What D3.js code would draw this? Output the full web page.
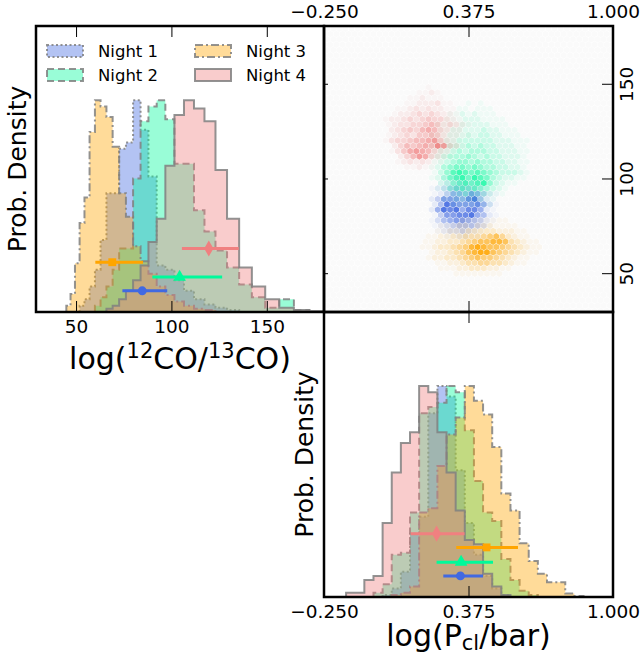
<!DOCTYPE html>
<meta charset="utf-8">
<style>
body { margin: 0; background: #fff; }
text { font-family: "DejaVu Sans", sans-serif; }
</style>
<body>
<div id="graph"></div>
<script src="https://cdnjs.cloudflare.com/ajax/libs/d3/7.8.5/d3.min.js"></script>
<script>
var nights = ["Night 1", "Night 2", "Night 3", "Night 4"];
var nightColors = ["royalblue", "mediumspringgreen", "orange", "lightcoral"];
var nightDash = ["2,2.5", "7,4", "8,3,2,3", null];
var nightSymbols = [d3.symbolCircle, d3.symbolTriangle, d3.symbolSquare, d3.symbolDiamond];

var coTicks = [50, 100, 150];
var pclTicks = [-0.25, 0.375, 1.0];
var pclTickLabels = ["\u22120.250", "0.375", "1.000"];

// 12CO/13CO histograms: log-spaced bins shared by all nights, peak normalised to 1
var coBinStart = 44.9, coBinRatio = 1.0492;
var coHistN1 = [0, 0, 0, 0.03, 0.06, 0.12, 0.2, 0.34, 0.56, 0.56, 0.77, 0.8, 1.0, 0.86, 0.64, 0.22, 0.2, 0.15, 0.1, 0.06, 0.035, 0.02, 0.01];
var coHistN2 = [0, 0, 0, 0, 0, 0, 0.03, 0.07, 0.12, 0.2, 0.3, 0.3, 0.63, 0.9, 0.97, 1.0, 0.91, 0.7, 0.7, 0.48, 0.38, 0.29, 0.21, 0.13, 0.07, 0.02, 0.06, 0.01];
var coHistN3 = [0.03, 0.085, 0.23, 0.42, 0.54, 0.85, 1.0, 0.97, 0.92, 0.78, 0.56, 0.45, 0.31, 0.24, 0.18, 0.12, 0.08, 0.05, 0.03, 0.015, 0.01];
var coHistN4 = [0, 0, 0, 0, 0, 0, 0, 0, 0.015, 0.03, 0.06, 0.1, 0.15, 0.22, 0.33, 0.44, 0.69, 0.93, 1.0, 0.96, 0.9, 0.67, 0.44, 0.21, 0.12, 0.06, 0.02, 0.01, 0.005];

// log(Pcl/bar) histograms: linear bins
var pclBinStart = -0.194, pclBinWidth = 0.0395;
var pclHistN1 = [0, 0, 0, 0, 0, 0.01, 0.04, 0.12, 0.3, 0.38, 0.87, 1.0, 0.95, 0.6, 0.35, 0.2, 0.1, 0.04, 0.01];
var pclHistN2 = [0, 0, 0, 0, 0.02, 0.06, 0.2, 0.21, 0.4, 0.87, 0.9, 0.92, 1.0, 0.97, 0.79, 0.55, 0.4, 0.36, 0.18, 0.08, 0.03, 0.01];
var pclHistN3 = [0, 0, 0, 0, 0, 0, 0.01, 0.02, 0.05, 0.4, 0.42, 0.62, 0.77, 0.85, 1.0, 0.93, 0.865, 0.71, 0.49, 0.41, 0.255, 0.17, 0.11, 0.07, 0.07, 0.017, 0.005];
var pclHistN4 = [0, 0.02, 0.02, 0.08, 0.1, 0.35, 0.59, 0.73, 0.78, 1.0, 0.97, 0.78, 0.59, 0.41, 0.27, 0.25, 0.11, 0.05, 0.01];

// medians and 68% intervals, drawn as error bars
var coMed = [84.7, 104.3, 69.0, 119.6];
var coLo = [74.3, 90.0, 60.1, 105.5];
var coHi = [97.8, 126.6, 85.1, 135.3];
var pclMed = [0.340, 0.343, 0.453, 0.237];
var pclLo = [0.266, 0.237, 0.322, 0.125];
var pclHi = [0.438, 0.481, 0.589, 0.358];
var markerHeight = [0.10, 0.165, 0.235, 0.30];

// joint hexbin density levels (0-9) per night: top row CO, left column Pcl, rows top -> bottom
var hexN1Top = 100, hexN1Left = 0.19;
var hexN1 = [
  "000112111000",
  "001223322100",
  "012345443210",
  "012466576421",
  "024777689521",
  "025987778631",
  "026989688621",
  "014778896521",
  "013567765421",
  "012345554310",
  "001233432100",
  "000112211000"
];
var hexN2Top = 140, hexN2Left = 0.2;
var hexN2 = [
  "00000001010000000",
  "00000110111000000",
  "00001121211100000",
  "00011122211110000",
  "00111122222111000",
  "00112222232211100",
  "01112223233221110",
  "01122333333222111",
  "01223334343322211",
  "01223434443322211",
  "01234445434332221",
  "01234554544332211",
  "01245665654433221",
  "01357876765433321",
  "01246786876432211",
  "00235676785321100",
  "00124565654321000",
  "00012343332110000",
  "00011222221100000",
  "00001111111000000"
];
var hexN3Top = 79, hexN3Left = 0.16;
var hexN3 = [
  "000000011111111000000",
  "000011122122211110000",
  "000112223333322211000",
  "001122334445675321100",
  "011223345677887432110",
  "011233456898776543211",
  "001223457899765432110",
  "001223345676654321100",
  "000112234455443211000",
  "000011122333221100000",
  "000000111111110000000"
];
var hexN4Top = 149, hexN4Left = -0.01;
var hexN4 = [
  "000000001000000",
  "000000112100000",
  "000001121110000",
  "000011222311000",
  "000112323221100",
  "001223434322100",
  "012234345443210",
  "012334456534321",
  "002345467643220",
  "012343556532211",
  "013445667853210",
  "002465676984310",
  "001357876432100",
  "000246874321000",
  "000123232110000",
  "000011211000000"
];

var coHists = [coHistN1, coHistN2, coHistN3, coHistN4];
var pclHists = [pclHistN1, pclHistN2, pclHistN3, pclHistN4];
var hexGrids = [[hexN1Top, hexN1Left, hexN1], [hexN2Top, hexN2Left, hexN2], [hexN3Top, hexN3Left, hexN3], [hexN4Top, hexN4Left, hexN4]];

var W = 643, H = 660;
var pTL = {x0: 36, x1: 324, y0: 26, y1: 312};
var pTR = {x0: 324, x1: 613, y0: 26, y1: 312};
var pBR = {x0: 324, x1: 613, y0: 312, y1: 597};

var svg = d3.select("#graph").append("svg")
    .attr("width", W)
    .attr("height", H);
var defs = svg.append("defs");
function addClip(id, b) {
    defs.append("clipPath").attr("id", id)
        .append("rect")
        .attr("x", b.x0).attr("y", b.y0)
        .attr("width", b.x1 - b.x0).attr("height", b.y1 - b.y0);
}
addClip("clipTL", pTL);
addClip("clipTR", pTR);
addClip("clipBR", pBR);

var xCo = d3.scaleLinear().domain([29, 180]).range([pTL.x0, pTL.x1]);
var yCoDens = d3.scaleLinear().domain([0, 1.35]).range([pTL.y1, pTL.y0]);
var xPclHex = d3.scaleLinear().domain([-0.25, 1]).range([pTR.x0, pTR.x1]);
var yCoHex = d3.scaleLinear().domain([29.5, 180.5]).range([pTR.y1, pTR.y0]);
var xPcl = d3.scaleLinear().domain([-0.25, 1]).range([pBR.x0, pBR.x1]);
var yPclDens = d3.scaleLinear().domain([0, 1.35]).range([pBR.y1, pBR.y0]);
// hex density level -> opacity
var hexAlpha = d3.scalePow().exponent(1.4).domain([0, 9]).range([0, 0.9]);

// ---------- hexbin panel ----------
var hexCols = 47;
var pclLeft = xPclHex.domain()[0], coTop = yCoHex.domain()[1];
var hexDx = (xPclHex.domain()[1] - pclLeft) / hexCols;
var hxPx = xPclHex(pclLeft + hexDx) - xPclHex(pclLeft);
var hexR = hxPx / Math.sqrt(3);
var hexDy = 1.5 * hexR / (yCoHex(0) - yCoHex(1));
var hexRows = Math.ceil((coTop - yCoHex.domain()[0]) / hexDy) + 1;

function latticeCenter(i, j) {
    return [pclLeft + (i + 0.5 + (j % 2) * 0.5) * hexDx, coTop - (j + 0.5) * hexDy];
}
var hexShape = (function() {
    var r = hexR * 0.93, w = hxPx / 2 * 0.93;
    return "M0," + (-r) + "L" + w + "," + (-r / 2) + "L" + w + "," + (r / 2) +
        "L0," + r + "L" + (-w) + "," + (r / 2) + "L" + (-w) + "," + (-r / 2) + "Z";
})();

function hexCells(top, left, rows) {
    var j0 = Math.round((coTop - top) / hexDy - 0.5);
    var cells = [];
    rows.forEach(function(row, r) {
        var j = j0 + r;
        var i0 = Math.round((left - pclLeft) / hexDx - 0.5 - (j % 2) * 0.5);
        row.split("").forEach(function(ch, c) {
            var level = +ch;
            if (level > 0) {
                var p = latticeCenter(i0 + c, j);
                cells.push({pcl: p[0], co: p[1], level: level});
            }
        });
    });
    return cells;
}

var hexLayer = svg.append("g").attr("clip-path", "url(#clipTR)");
var bgCells = [];
for (var j = 0; j < hexRows; j++) {
    for (var i = -1; i <= hexCols; i++) {
        var p = latticeCenter(i, j);
        bgCells.push({pcl: p[0], co: p[1]});
    }
}
hexLayer.selectAll("path.bg")
    .data(bgCells)
    .enter()
    .append("path")
    .attr("class", "bg")
    .attr("d", hexShape)
    .attr("transform", function(d) { return "translate(" + xPclHex(d.pcl) + "," + yCoHex(d.co) + ")"; })
    .attr("fill", "#999")
    .attr("fill-opacity", 0.05);

hexGrids.forEach(function(g, n) {
    hexLayer.append("g")
        .selectAll("path")
        .data(hexCells(g[0], g[1], g[2]))
        .enter()
        .append("path")
        .attr("d", hexShape)
        .attr("transform", function(d) { return "translate(" + xPclHex(d.pcl) + "," + yCoHex(d.co) + ")"; })
        .attr("fill", nightColors[n])
        .attr("fill-opacity", function(d) { return hexAlpha(d.level); });
});

// ---------- histograms ----------
function stepPoints(heights, edge) {
    var first = heights.findIndex(function(h) { return h > 0; });
    var last = heights.length - 1;
    while (heights[last] <= 0) last--;
    var pts = [[edge(first), 0]];
    for (var k = first; k <= last; k++) {
        pts.push([edge(k), heights[k]]);
        pts.push([edge(k + 1), heights[k]]);
    }
    pts.push([edge(last + 1), 0]);
    return pts;
}
function coEdge(k) { return coBinStart * Math.pow(coBinRatio, k); }
function pclEdge(k) { return pclBinStart + k * pclBinWidth; }

function drawHists(clipId, hists, edge, x, y) {
    var g = svg.append("g").attr("clip-path", "url(#" + clipId + ")");
    var line = d3.line()
        .x(function(d) { return x(d[0]); })
        .y(function(d) { return y(d[1]); });
    hists.forEach(function(h, n) {
        g.append("path")
            .datum(stepPoints(h, edge))
            .attr("d", function(d) { return line(d) + "Z"; })
            .attr("fill", nightColors[n])
            .attr("fill-opacity", 0.4)
            .attr("stroke", "gray")
            .attr("stroke-opacity", 0.85)
            .attr("stroke-width", 2)
            .attr("stroke-dasharray", nightDash[n]);
    });
    return g;
}
var gTL = drawHists("clipTL", coHists, coEdge, xCo, yCoDens);
var gBR = drawHists("clipBR", pclHists, pclEdge, xPcl, yPclDens);

function drawErrorBars(g, med, lo, hi, x, y) {
    nights.forEach(function(name, n) {
        g.append("line")
            .attr("x1", x(lo[n])).attr("x2", x(hi[n]))
            .attr("y1", y(markerHeight[n])).attr("y2", y(markerHeight[n]))
            .attr("stroke", nightColors[n])
            .attr("stroke-width", 3);
        g.append("path")
            .attr("d", d3.symbol().type(nightSymbols[n]).size(n == 3 ? 75 : (n == 1 ? 70 : 62))())
            .attr("transform", "translate(" + x(med[n]) + "," + y(markerHeight[n]) + ")")
            .attr("fill", nightColors[n]);
    });
}
drawErrorBars(gTL, coMed, coLo, coHi, xCo, yCoDens);
drawErrorBars(gBR, pclMed, pclLo, pclHi, xPcl, yPclDens);

// ---------- legend ----------
var legend = svg.append("g");
nights.forEach(function(name, n) {
    var lx = pTL.x0 + 11 + Math.floor(n / 2) * 148;
    var ly = pTL.y0 + 19 + (n % 2) * 24;
    legend.append("rect")
        .attr("x", lx).attr("y", ly)
        .attr("width", 36).attr("height", 12)
        .attr("fill", nightColors[n])
        .attr("fill-opacity", 0.4)
        .attr("stroke", "gray")
        .attr("stroke-opacity", 0.85)
        .attr("stroke-width", 2)
        .attr("stroke-dasharray", nightDash[n]);
    legend.append("text")
        .attr("x", lx + 51).attr("y", ly + 6)
        .attr("dy", "0.35em")
        .attr("font-size", 16.5)
        .text(name);
});

// ---------- axes ----------
function styleAxis(g) {
    g.select(".domain").remove();
    g.attr("font-size", 18.5).attr("font-family", "DejaVu Sans, sans-serif");
    g.selectAll(".tick line").attr("stroke", "#000").attr("stroke-width", 1);
}
svg.append("g").attr("transform", "translate(0," + pTL.y1 + ")")
    .call(d3.axisBottom(xCo).tickValues(coTicks).tickSize(-11).tickPadding(8))
    .call(styleAxis);
svg.append("g").attr("transform", "translate(0," + pTL.y0 + ")")
    .call(d3.axisTop(xCo).tickValues(coTicks).tickSize(-11).tickFormat(""))
    .call(styleAxis);

var pclFormat = function(d, i) { return pclTickLabels[i]; };
svg.append("g").attr("transform", "translate(0," + pTR.y0 + ")")
    .call(d3.axisTop(xPclHex).tickValues(pclTicks).tickSize(-11).tickPadding(8).tickFormat(pclFormat))
    .call(styleAxis);
svg.append("g").attr("transform", "translate(0," + pTR.y1 + ")")
    .call(d3.axisBottom(xPclHex).tickValues(pclTicks).tickSize(-11).tickFormat(""))
    .call(styleAxis);
svg.append("g").attr("transform", "translate(" + pTR.x1 + ",0)")
    .call(d3.axisRight(yCoHex).tickValues(coTicks).tickSize(-11))
    .call(styleAxis)
    .call(function(g) {
        g.selectAll(".tick text")
            .attr("x", null).attr("dy", null)
            .attr("text-anchor", "middle")
            .attr("transform", "translate(20,0) rotate(-90)");
    });
svg.append("g").attr("transform", "translate(" + pTR.x0 + ",0)")
    .call(d3.axisLeft(yCoHex).tickValues(coTicks).tickSize(-4).tickFormat(""))
    .call(styleAxis);

svg.append("g").attr("transform", "translate(0," + pBR.y1 + ")")
    .call(d3.axisBottom(xPcl).tickValues(pclTicks).tickSize(-11).tickPadding(8).tickFormat(pclFormat))
    .call(styleAxis);
svg.append("g").attr("transform", "translate(0," + pBR.y0 + ")")
    .call(d3.axisTop(xPcl).tickValues(pclTicks).tickSize(-11).tickFormat(""))
    .call(styleAxis);

// spines
[pTL, pTR, pBR].forEach(function(b) {
    svg.append("rect")
        .attr("x", b.x0).attr("y", b.y0)
        .attr("width", b.x1 - b.x0).attr("height", b.y1 - b.y0)
        .attr("fill", "none")
        .attr("stroke", "#000")
        .attr("stroke-width", 2.5);
});

// ---------- axis labels ----------
svg.append("text")
    .attr("transform", "translate(26," + ((pTL.y0 + pTL.y1) / 2) + ") rotate(-90)")
    .attr("text-anchor", "middle")
    .attr("font-size", 25)
    .text("Prob. Density");
svg.append("text")
    .attr("transform", "translate(313," + ((pBR.y0 + pBR.y1) / 2) + ") rotate(-90)")
    .attr("text-anchor", "middle")
    .attr("font-size", 25)
    .text("Prob. Density");

var xl1 = svg.append("text")
    .attr("x", (pTL.x0 + pTL.x1) / 2)
    .attr("y", 369)
    .attr("text-anchor", "middle")
    .attr("font-size", 30);
xl1.append("tspan").text("log(");
xl1.append("tspan").attr("font-size", 21).attr("dy", -11).text("12");
xl1.append("tspan").attr("dy", 11).text("CO/");
xl1.append("tspan").attr("font-size", 21).attr("dy", -11).text("13");
xl1.append("tspan").attr("dy", 11).text("CO)");

var xl2 = svg.append("text")
    .attr("x", (pBR.x0 + pBR.x1) / 2)
    .attr("y", 646)
    .attr("text-anchor", "middle")
    .attr("font-size", 30);
xl2.append("tspan").text("log(P");
xl2.append("tspan").attr("font-size", 21).attr("dy", 4).text("cl");
xl2.append("tspan").attr("dy", -4).text("/bar)");
</script>
</body>
